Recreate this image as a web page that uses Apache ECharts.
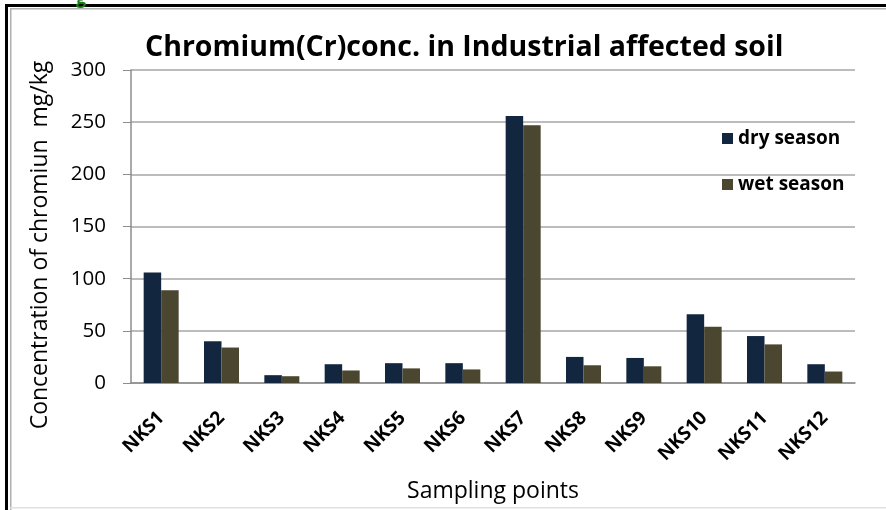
<!DOCTYPE html>
<html>
<head>
<meta charset="utf-8">
<script src="https://cdn.jsdelivr.net/npm/echarts@6/dist/echarts.min.js"></script>
<style>
  html, body { margin: 0; padding: 0; background: #fff; }
  #chart { width: 886px; height: 510px; }
</style>
</head>
<body>
<div id="chart"></div>
<script>
// sampling points and Cr values (mg/kg)
var points = ['NKS1', 'NKS2', 'NKS3', 'NKS4', 'NKS5', 'NKS6', 'NKS7', 'NKS8', 'NKS9', 'NKS10', 'NKS11', 'NKS12'];
var drySeason = [106, 40, 7.5, 18, 19, 19, 256, 25, 24, 66, 45, 18];
var wetSeason = [89, 34, 6.5, 12, 14, 13, 247, 17, 16, 54, 37, 11];
var yTicks = [0, 50, 100, 150, 200, 250, 300];

var font = 'Open Sans';
var chart = echarts.init(document.getElementById('chart'));

var option = {
  animation: false,
  backgroundColor: '#fff',
  title: {
    text: 'Chromium(Cr)conc. in Industrial affected soil',
    left: 140,
    top: 28,
    textStyle: { fontFamily: font, fontWeight: 'bold', fontSize: 28.5, color: '#000' }
  },
  legend: {
    orient: 'vertical',
    left: 717,
    top: 124,
    itemWidth: 11,
    itemHeight: 11,
    itemGap: 27,
    icon: 'rect',
    textStyle: { fontFamily: font, fontWeight: 'bold', fontSize: 19, color: '#000' },
    data: ['dry season', 'wet season']
  },
  grid: { left: 131, right: 31, top: 70, bottom: 127, outerBoundsMode: 'none' },
  xAxis: {
    type: 'category',
    data: points,
    axisLine: { lineStyle: { color: '#8c8c8c', width: 1.5 } },
    axisTick: { show: false },
    axisLabel: {
      rotate: 45,
      margin: 32,
      fontFamily: font,
      fontWeight: 'bold',
      fontSize: 19,
      color: '#000'
    },
    name: 'Sampling points',
    nameLocation: 'middle',
    nameGap: 97,
    nameTextStyle: { fontFamily: font, fontSize: 23, color: '#000' }
  },
  yAxis: {
    type: 'value',
    min: 0,
    max: 300,
    interval: 50,
    axisLine: { show: true, lineStyle: { color: '#8c8c8c', width: 1.5 } },
    axisTick: { show: true, length: 8, lineStyle: { color: '#8c8c8c' } },
    splitLine: { lineStyle: { color: '#a6a6a6', width: 1.5 } },
    axisLabel: {
      margin: 25,
      fontFamily: font,
      fontSize: 20.5,
      color: '#000',
      formatter: function (v) { return yTicks.indexOf(v) >= 0 ? String(v) : ''; }
    }
  },
  series: [
    {
      name: 'dry season',
      type: 'bar',
      data: drySeason,
      barGap: '0%',
      barCategoryGap: '42%',
      itemStyle: { color: '#13263f' }
    },
    {
      name: 'wet season',
      type: 'bar',
      data: wetSeason,
      itemStyle: { color: '#4b462f' }
    }
  ],
  graphic: [
    { type: 'rect', shape: { x: 5, y: 4, width: 881, height: 3 }, style: { fill: '#000' }, silent: true },
    { type: 'rect', shape: { x: 5, y: 4, width: 3, height: 506 }, style: { fill: '#000' }, silent: true },
    { type: 'rect', shape: { x: 10, y: 8, width: 876, height: 1.5 }, style: { fill: '#b0b0b0' }, silent: true },
    { type: 'rect', shape: { x: 10, y: 8, width: 1.5, height: 502 }, style: { fill: '#b0b0b0' }, silent: true },
    { type: 'rect', shape: { x: 10, y: 507, width: 876, height: 1.5 }, style: { fill: '#e0e0e0' }, silent: true },
    {
      type: 'text', left: 76, top: -10,
      style: { text: 'g', fill: '#1a7a1a', font: 'bold 18px "Open Sans"' }, silent: true
    },
    {
      type: 'text', x: 40, y: 245, rotation: Math.PI / 2,
      style: {
        text: 'Concentration of chromiun  mg/kg',
        fill: '#000', font: '23px "Open Sans"', align: 'center', verticalAlign: 'middle'
      },
      silent: true
    }
  ]
};

chart.setOption(option);
</script>
</body>
</html>
